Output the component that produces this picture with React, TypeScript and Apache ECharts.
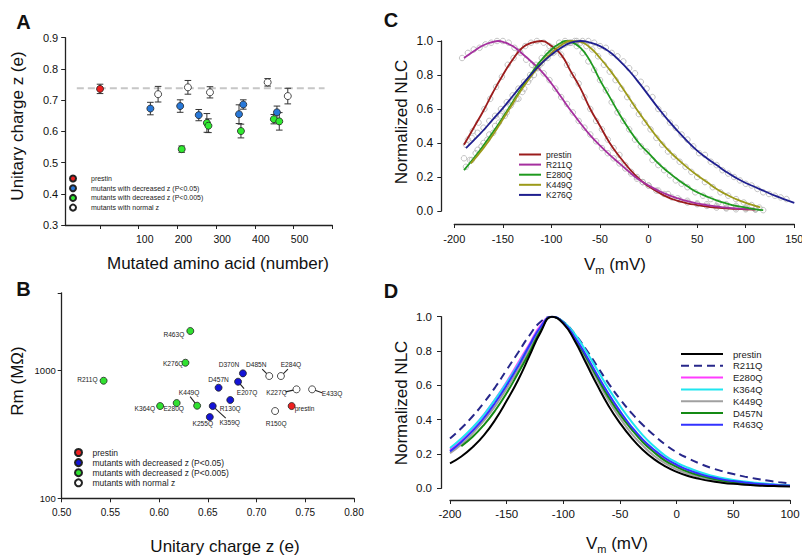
import React, { useEffect, useRef } from 'react';
import * as echarts from 'echarts';

const FONT = 'Arial, "Liberation Sans", Helvetica, sans-serif';

// ---------- Panels A & B: mutants ----------
const mutantNames = ['prestin', 'R130Q', 'R150Q', 'E207Q', 'R211Q', 'K227Q', 'K255Q', 'K276Q', 'E280Q', 'E284Q', 'K359Q', 'K364Q', 'D370N', 'E433Q', 'K449Q', 'D457N', 'R463Q', 'D485N'];
const residues = [0, 130, 150, 207, 211, 227, 255, 276, 280, 284, 359, 364, 370, 433, 449, 457, 463, 485];
const zValues = [0.736, 0.673, 0.719, 0.681, 0.543, 0.741, 0.652, 0.627, 0.618, 0.725, 0.655, 0.601, 0.686, 0.757, 0.639, 0.661, 0.632, 0.713];
const zErrors = [0.015, 0.02, 0.025, 0.02, 0.01, 0.022, 0.018, 0.03, 0.022, 0.018, 0.03, 0.022, 0.015, 0.012, 0.015, 0.02, 0.028, 0.025];
const rmValues = [524, 584, 479, 811, 825, 707, 430, 1140, 553, 898, 524, 524, 942, 707, 527, 728, 2015, 898];
const mutantGroups = ['prestin', 'p05', 'normal', 'p05', 'p005', 'normal', 'p05', 'p005', 'p005', 'normal', 'p05', 'p005', 'p05', 'normal', 'p005', 'p05', 'p005', 'normal'];
const groupKeys = ['prestin', 'p05', 'p005', 'normal'];
const groupLabels = ['prestin', 'mutants with decreased z (P<0.05)', 'mutants with decreased z (P<0.005)', 'mutants with normal z'];
const prestinZLine = 0.738;
const prestinLineRange = [-60, 580];

// ---------- Panel C: NLC fits and raw points ----------
const cNames = ['prestin', 'R211Q', 'E280Q', 'K449Q', 'K276Q'];
const cPrestin = [[-190, 0.39], [-180, 0.49], [-170, 0.59], [-160, 0.7], [-150, 0.8], [-140, 0.89], [-130, 0.96], [-120, 0.99], [-110, 1.0], [-100, 0.97], [-90, 0.92], [-80, 0.82], [-70, 0.72], [-60, 0.6], [-50, 0.5], [-40, 0.4], [-30, 0.32], [-20, 0.25], [-10, 0.19], [0, 0.145], [10, 0.11], [20, 0.08], [30, 0.06], [40, 0.045], [50, 0.035], [60, 0.026], [70, 0.02], [80, 0.015], [90, 0.012], [100, 0.01], [110, 0.008]];
const cR211Q = [[-190, 0.9], [-180, 0.94], [-170, 0.975], [-160, 0.995], [-155, 1.0], [-150, 0.995], [-140, 0.97], [-130, 0.925], [-120, 0.875], [-110, 0.82], [-100, 0.75], [-90, 0.67], [-80, 0.59], [-70, 0.515], [-60, 0.445], [-50, 0.385], [-40, 0.33], [-30, 0.28], [-20, 0.23], [-10, 0.185], [0, 0.15], [10, 0.12], [20, 0.095], [30, 0.075], [40, 0.058], [50, 0.045], [60, 0.035], [70, 0.027], [80, 0.02], [90, 0.016], [100, 0.012], [110, 0.01]];
const cE280Q = [[-190, 0.24], [-180, 0.31], [-170, 0.385], [-160, 0.465], [-150, 0.55], [-140, 0.64], [-130, 0.73], [-120, 0.815], [-110, 0.89], [-100, 0.95], [-90, 0.99], [-85, 1.0], [-80, 0.995], [-70, 0.96], [-60, 0.88], [-50, 0.77], [-40, 0.67], [-30, 0.57], [-20, 0.48], [-10, 0.4], [0, 0.34], [10, 0.28], [20, 0.23], [30, 0.185], [40, 0.145], [50, 0.11], [60, 0.085], [70, 0.063], [80, 0.045], [90, 0.03], [100, 0.02], [110, 0.01], [118, 0.005]];
const cK449Q = [[-183, 0.28], [-170, 0.37], [-160, 0.45], [-150, 0.54], [-140, 0.63], [-130, 0.72], [-120, 0.8], [-110, 0.87], [-100, 0.93], [-90, 0.975], [-80, 1.0], [-70, 0.995], [-60, 0.96], [-50, 0.9], [-40, 0.83], [-30, 0.75], [-20, 0.665], [-10, 0.58], [0, 0.5], [10, 0.425], [20, 0.36], [30, 0.305], [40, 0.255], [50, 0.21], [60, 0.17], [70, 0.13], [80, 0.097], [90, 0.07], [100, 0.048], [110, 0.03], [115, 0.022]];
const cK276Q = [[-188, 0.37], [-180, 0.415], [-170, 0.475], [-160, 0.54], [-150, 0.605], [-140, 0.675], [-130, 0.745], [-120, 0.81], [-110, 0.87], [-100, 0.92], [-90, 0.96], [-80, 0.99], [-70, 1.0], [-60, 0.99], [-50, 0.97], [-40, 0.935], [-30, 0.885], [-20, 0.825], [-10, 0.755], [0, 0.68], [10, 0.605], [20, 0.535], [30, 0.47], [40, 0.41], [50, 0.355], [60, 0.31], [70, 0.27], [80, 0.23], [90, 0.195], [100, 0.165], [110, 0.14], [120, 0.115], [130, 0.09], [140, 0.068], [150, 0.048]];

const cPtsPrestin = [[-190, 0.31], [-186, 0.42], [-181, 0.47], [-175, 0.52], [-169, 0.6], [-163, 0.66], [-157, 0.73], [-151, 0.79], [-145, 0.86], [-139, 0.9], [-133, 0.94], [-127, 0.97], [-121, 0.99], [-115, 1.0], [-108, 0.99], [-102, 0.97], [-96, 0.94], [-90, 0.92], [-84, 0.86], [-78, 0.8], [-72, 0.75], [-66, 0.67], [-60, 0.6], [-54, 0.53], [-48, 0.48], [-42, 0.42], [-36, 0.37], [-30, 0.33], [-24, 0.27], [-18, 0.23], [-12, 0.2], [-6, 0.17], [0, 0.15], [8, 0.12], [16, 0.1], [24, 0.08], [32, 0.065], [40, 0.05], [50, 0.04], [60, 0.03], [70, 0.02], [80, 0.015], [90, 0.01], [100, 0.01], [110, 0.01]];
const cPtsR211Q = [[-192, 0.9], [-186, 0.93], [-180, 0.95], [-174, 0.96], [-168, 0.98], [-162, 0.99], [-156, 1.0], [-150, 1.0], [-144, 0.99], [-138, 0.96], [-132, 0.93], [-126, 0.89], [-120, 0.86], [-114, 0.84], [-108, 0.81], [-102, 0.77], [-96, 0.72], [-90, 0.67], [-84, 0.63], [-78, 0.58], [-72, 0.53], [-66, 0.49], [-60, 0.45], [-54, 0.41], [-48, 0.37], [-42, 0.34], [-36, 0.31], [-30, 0.28], [-24, 0.25], [-18, 0.22], [-12, 0.19], [-6, 0.17], [0, 0.15], [10, 0.12], [20, 0.1], [30, 0.075], [40, 0.06], [50, 0.045], [60, 0.04], [70, 0.03], [80, 0.02], [90, 0.02], [100, 0.015], [110, 0.01]];
const cPtsE280Q = [[-188, 0.26], [-182, 0.3], [-176, 0.36], [-170, 0.4], [-164, 0.45], [-158, 0.5], [-152, 0.56], [-146, 0.58], [-140, 0.64], [-134, 0.66], [-128, 0.72], [-122, 0.78], [-116, 0.86], [-110, 0.9], [-104, 0.93], [-98, 0.96], [-92, 0.99], [-86, 1.0], [-80, 0.99], [-74, 0.97], [-68, 0.93], [-62, 0.88], [-56, 0.83], [-50, 0.77], [-44, 0.71], [-38, 0.64], [-32, 0.58], [-26, 0.53], [-20, 0.48], [-14, 0.42], [-8, 0.38], [-2, 0.35], [4, 0.3], [10, 0.27], [16, 0.24], [22, 0.21], [28, 0.18], [34, 0.16], [40, 0.14], [48, 0.11], [56, 0.09], [64, 0.07], [72, 0.05], [80, 0.04], [90, 0.03], [100, 0.02], [110, 0.01], [118, 0.005]];
const cPtsK449Q = [[-184, 0.3], [-178, 0.34], [-172, 0.38], [-166, 0.42], [-160, 0.46], [-154, 0.52], [-148, 0.56], [-142, 0.62], [-136, 0.66], [-130, 0.7], [-124, 0.76], [-118, 0.8], [-112, 0.86], [-106, 0.9], [-100, 0.93], [-94, 0.96], [-88, 0.98], [-82, 0.99], [-76, 1.0], [-70, 0.99], [-64, 0.97], [-58, 0.95], [-52, 0.91], [-46, 0.86], [-40, 0.82], [-34, 0.77], [-28, 0.72], [-22, 0.67], [-16, 0.62], [-10, 0.57], [-4, 0.52], [2, 0.48], [8, 0.43], [14, 0.39], [20, 0.35], [26, 0.32], [32, 0.29], [38, 0.26], [44, 0.23], [50, 0.2], [58, 0.17], [66, 0.14], [74, 0.11], [82, 0.09], [90, 0.07], [98, 0.05], [106, 0.035], [114, 0.02]];
const cPtsK276Q = [[-188, 0.39], [-182, 0.43], [-176, 0.46], [-170, 0.49], [-164, 0.53], [-158, 0.56], [-152, 0.6], [-146, 0.64], [-140, 0.68], [-134, 0.72], [-128, 0.76], [-122, 0.8], [-116, 0.84], [-110, 0.87], [-104, 0.9], [-98, 0.93], [-92, 0.96], [-86, 0.98], [-80, 0.99], [-74, 1.0], [-68, 1.0], [-62, 1.0], [-56, 0.99], [-50, 0.97], [-44, 0.96], [-38, 0.93], [-32, 0.91], [-26, 0.88], [-20, 0.84], [-14, 0.81], [-8, 0.76], [-2, 0.72], [4, 0.67], [10, 0.6], [16, 0.57], [22, 0.52], [28, 0.49], [34, 0.45], [40, 0.42], [46, 0.38], [52, 0.34], [58, 0.33], [64, 0.29], [70, 0.27], [76, 0.24], [82, 0.22], [88, 0.2], [94, 0.18], [100, 0.16], [106, 0.15], [112, 0.13], [118, 0.11], [124, 0.1], [130, 0.09], [136, 0.08], [142, 0.07]];

// ---------- Panel D: normalized NLC fits ----------
const dNames = ['prestin', 'R211Q', 'E280Q', 'K364Q', 'K449Q', 'D457N', 'R463Q'];
const dPrestin = [[-200, 0.145], [-190, 0.185], [-180, 0.24], [-170, 0.31], [-160, 0.4], [-150, 0.51], [-140, 0.63], [-130, 0.77], [-120, 0.91], [-110, 1.0], [-100, 0.96], [-90, 0.86], [-80, 0.73], [-70, 0.6], [-60, 0.48], [-50, 0.38], [-40, 0.295], [-30, 0.225], [-20, 0.17], [-10, 0.128], [0, 0.096], [10, 0.072], [20, 0.055], [30, 0.042], [40, 0.033], [50, 0.026], [60, 0.021], [70, 0.017], [80, 0.014], [90, 0.012], [100, 0.01]];
const dR211Q = [[-200, 0.29], [-190, 0.35], [-180, 0.42], [-170, 0.5], [-160, 0.59], [-150, 0.69], [-140, 0.79], [-130, 0.89], [-120, 0.97], [-110, 1.0], [-100, 0.97], [-90, 0.9], [-80, 0.81], [-70, 0.71], [-60, 0.61], [-50, 0.52], [-40, 0.44], [-30, 0.37], [-20, 0.31], [-10, 0.255], [0, 0.21], [10, 0.175], [20, 0.145], [30, 0.12], [40, 0.1], [50, 0.083], [60, 0.068], [70, 0.056], [80, 0.045], [90, 0.036], [100, 0.028]];
const dE280Q = [[-200, 0.225], [-190, 0.28], [-180, 0.35], [-170, 0.43], [-160, 0.52], [-150, 0.62], [-140, 0.73], [-130, 0.84], [-120, 0.95], [-110, 1.0], [-100, 0.965], [-90, 0.88], [-80, 0.77], [-70, 0.65], [-60, 0.54], [-50, 0.44], [-40, 0.355], [-30, 0.28], [-20, 0.22], [-10, 0.17], [0, 0.135], [10, 0.105], [20, 0.083], [30, 0.066], [40, 0.052], [50, 0.042], [60, 0.034], [70, 0.028], [80, 0.023], [90, 0.019], [100, 0.016]];
const dK364Q = [[-200, 0.235], [-190, 0.29], [-180, 0.355], [-170, 0.43], [-160, 0.52], [-150, 0.615], [-140, 0.72], [-130, 0.83], [-120, 0.94], [-110, 1.0], [-100, 0.97], [-90, 0.9], [-80, 0.8], [-70, 0.69], [-60, 0.58], [-50, 0.48], [-40, 0.39], [-30, 0.31], [-20, 0.245], [-10, 0.19], [0, 0.15], [10, 0.12], [20, 0.095], [30, 0.075], [40, 0.06], [50, 0.048], [60, 0.039], [70, 0.032], [80, 0.026], [90, 0.021], [100, 0.017]];
const dK449Q = [[-200, 0.205], [-190, 0.255], [-180, 0.32], [-170, 0.395], [-160, 0.48], [-150, 0.58], [-140, 0.69], [-130, 0.81], [-120, 0.93], [-110, 1.0], [-100, 0.96], [-90, 0.87], [-80, 0.75], [-70, 0.63], [-60, 0.51], [-50, 0.41], [-40, 0.32], [-30, 0.25], [-20, 0.19], [-10, 0.145], [0, 0.11], [10, 0.085], [20, 0.066], [30, 0.052], [40, 0.041], [50, 0.033], [60, 0.027], [70, 0.022], [80, 0.018], [90, 0.015], [100, 0.013]];
const dD457N = [[-190, 0.245], [-180, 0.3], [-170, 0.37], [-160, 0.455], [-150, 0.555], [-140, 0.67], [-130, 0.79], [-120, 0.92], [-110, 1.0], [-100, 0.965], [-90, 0.875], [-80, 0.765], [-70, 0.645], [-60, 0.53], [-50, 0.43], [-40, 0.345], [-30, 0.27], [-20, 0.21], [-10, 0.16], [0, 0.125], [10, 0.096], [20, 0.075], [30, 0.058], [40, 0.046], [50, 0.037], [60, 0.03], [70, 0.024], [80, 0.02], [90, 0.016], [100, 0.013]];
const dR463Q = [[-200, 0.215], [-190, 0.27], [-180, 0.335], [-170, 0.41], [-160, 0.5], [-150, 0.6], [-140, 0.71], [-130, 0.83], [-120, 0.94], [-110, 1.0], [-100, 0.965], [-90, 0.88], [-80, 0.775], [-70, 0.66], [-60, 0.55], [-50, 0.45], [-40, 0.36], [-30, 0.285], [-20, 0.225], [-10, 0.175], [0, 0.137], [10, 0.107], [20, 0.084], [30, 0.066], [40, 0.052], [50, 0.042], [60, 0.034], [70, 0.027], [80, 0.022], [90, 0.018], [100, 0.015]];

// ---------- styles ----------
const aColors: Record<string, string> = { prestin: '#ee2020', p05: '#2878d8', p005: '#30ea30', normal: '#ffffff' };
const bColors: Record<string, string> = { prestin: '#ee2020', p05: '#1414d6', p005: '#30e030', normal: '#ffffff' };
const cColors = ['#9b1c1c', '#a5309f', '#1f9a1f', '#9c9a1a', '#1f1f8f'];
const dColors = ['#000000', '#27278a', '#ff3cff', '#20e6f0', '#a0a0a0', '#148a14', '#3232ff'];

type Place = { dx: number; dy: number; align: 'left' | 'center' | 'right'; line?: [number, number] };
const bLabelPlacement: Record<string, Place> = {
  prestin: { dx: 3, dy: 2, align: 'left' },
  R130Q: { dx: 0, dy: 8.5, align: 'center' },
  R150Q: { dx: 1, dy: 12, align: 'center' },
  E207Q: { dx: 9, dy: 11, align: 'center', line: [6, 7] },
  R211Q: { dx: -6, dy: -1, align: 'right' },
  K227Q: { dx: -20, dy: 3, align: 'center', line: [-11, 2.5] },
  K255Q: { dx: -7, dy: 6, align: 'center' },
  K276Q: { dx: -2, dy: 1, align: 'right' },
  E280Q: { dx: -3, dy: 5, align: 'center' },
  E284Q: { dx: 10, dy: -12, align: 'center', line: [7, -7] },
  K359Q: { dx: 17, dy: 16, align: 'center', line: [13, 12] },
  K364Q: { dx: -5, dy: 2, align: 'right' },
  D370N: { dx: -14, dy: -9, align: 'center' },
  E433Q: { dx: 20, dy: 4, align: 'center', line: [10, 3.5] },
  K449Q: { dx: -8, dy: -13, align: 'center', line: [-7, -9] },
  D457N: { dx: 0, dy: -8.5, align: 'center' },
  R463Q: { dx: -6, dy: 4, align: 'right' },
  D485N: { dx: -13, dy: -12, align: 'center', line: [-7, -7] },
};

const axisLine = { show: true, onZero: false, lineStyle: { color: '#222', width: 1.3 } };
const tick = (extra: any = {}) => ({ show: true, inside: false, length: 4, lineStyle: { color: '#222', width: 1 }, ...extra });
const lbl = (fontSize: number, margin: number, extra: any = {}) => ({ show: true, color: '#111', fontFamily: FONT, fontSize, margin, showMinLabel: true, showMaxLabel: true, ...extra });
const noSplit = { show: false };
const stripPrefix = (n: string) => n.split(':').slice(1).join(':');

function txt(text: string, x: number, y: number, fontSize: number, opts: any = {}) {
  return {
    type: 'text', x, y, rotation: opts.rotation || 0, silent: true,
    style: {
      text, fontSize, fontFamily: FONT, fontWeight: opts.bold ? 'bold' : 'normal', fill: '#111',
      align: 'center', textAlign: 'center', verticalAlign: 'middle', textVerticalAlign: 'middle',
      rich: opts.rich,
    },
  };
}

function buildOption() {
  const idx = mutantNames.map((_, i) => i);
  const series: any[] = [];

  // Panel A: dashed prestin reference
  series.push({
    type: 'line', xAxisIndex: 0, yAxisIndex: 0, symbol: 'none', silent: true, z: 1,
    data: [[prestinLineRange[0], prestinZLine], [prestinLineRange[1], prestinZLine]],
    lineStyle: { color: '#c6c6c6', width: 2, type: [7, 4] },
  });
  // Panel A: error bars
  series.push({
    type: 'custom', xAxisIndex: 0, yAxisIndex: 0, silent: true, z: 2,
    data: idx.map((i) => [residues[i], zValues[i], zErrors[i]]),
    renderItem: (_p: any, api: any) => {
      const x = api.value(0), y = api.value(1), e = api.value(2);
      const t = api.coord([x, y + e]);
      const b = api.coord([x, y - e]);
      const hw = 3.3;
      const st = { stroke: '#333', lineWidth: 1 };
      return {
        type: 'group', children: [
          { type: 'line', shape: { x1: t[0], y1: t[1], x2: b[0], y2: b[1] }, style: st },
          { type: 'line', shape: { x1: t[0] - hw, y1: t[1], x2: t[0] + hw, y2: t[1] }, style: st },
          { type: 'line', shape: { x1: b[0] - hw, y1: b[1], x2: b[0] + hw, y2: b[1] }, style: st },
        ],
      };
    },
  });
  // Panel A & B scatter by group
  groupKeys.forEach((g, gi) => {
    const members = idx.filter((i) => mutantGroups[i] === g);
    series.push({
      type: 'scatter', name: 'A:' + groupLabels[gi], xAxisIndex: 0, yAxisIndex: 0, z: 3,
      symbol: 'circle', symbolSize: 7,
      itemStyle: { color: aColors[g], borderColor: '#222', borderWidth: 0.8, opacity: 1 },
      data: members.map((i) => [residues[i], zValues[i]]),
    });
    series.push({
      type: 'scatter', name: 'B:' + groupLabels[gi], xAxisIndex: 1, yAxisIndex: 1, z: 3,
      symbol: 'circle', symbolSize: 7,
      itemStyle: { color: bColors[g], borderColor: '#222', borderWidth: 0.8, opacity: 1 },
      data: members.map((i) => [zValues[i], rmValues[i]]),
    });
  });
  // Panel B labels with leader lines
  series.push({
    type: 'custom', xAxisIndex: 1, yAxisIndex: 1, silent: true, z: 2,
    data: idx.map((i) => [zValues[i], rmValues[i], i]),
    renderItem: (_p: any, api: any) => {
      const p = api.coord([api.value(0), api.value(1)]);
      const name = mutantNames[api.value(2)];
      const pl = bLabelPlacement[name];
      const children: any[] = [
        {
          type: 'text', x: p[0] + pl.dx, y: p[1] + pl.dy,
          style: {
            text: name, fontSize: 6.6, fontFamily: FONT, fill: '#222',
            align: pl.align, textAlign: pl.align, verticalAlign: 'middle', textVerticalAlign: 'middle',
          },
        },
      ];
      if (pl.line) {
        children.push({
          type: 'line', shape: { x1: p[0], y1: p[1], x2: p[0] + pl.line[0], y2: p[1] + pl.line[1] },
          style: { stroke: '#222', lineWidth: 1.1 },
        });
      }
      return { type: 'group', children };
    },
  });

  // Panel C raw points
  series.push({
    type: 'scatter', xAxisIndex: 2, yAxisIndex: 2, silent: true, z: 1,
    symbol: 'circle', symbolSize: 5.5,
    itemStyle: { color: 'rgba(255,255,255,0)', borderColor: '#b4b4b4', borderWidth: 1 },
    data: [...cPtsPrestin, ...cPtsR211Q, ...cPtsE280Q, ...cPtsK449Q, ...cPtsK276Q],
  });
  // Panel C fits
  [cPrestin, cR211Q, cE280Q, cK449Q, cK276Q].forEach((d, i) => {
    series.push({
      type: 'line', name: 'C:' + cNames[i], xAxisIndex: 2, yAxisIndex: 2, z: 3,
      symbol: 'none', smooth: true, data: d, color: cColors[i],
      lineStyle: { color: cColors[i], width: 1.8 },
    });
  });
  // Panel D fits
  [dPrestin, dR211Q, dE280Q, dK364Q, dK449Q, dD457N, dR463Q].forEach((d, i) => {
    series.push({
      type: 'line', name: 'D:' + dNames[i], xAxisIndex: 3, yAxisIndex: 3, z: i === 0 ? 4 : 3,
      symbol: 'none', smooth: true, data: d, color: dColors[i],
      lineStyle: { color: dColors[i], width: 2, type: i === 1 ? [8, 5] : 'solid' },
    });
  });

  const legendBase = {
    orient: 'vertical', padding: 0, selectedMode: false, formatter: stripPrefix,
  };
  const lineLegendItemStyle = { opacity: 0, color: 'rgba(0,0,0,0)', borderWidth: 0 };

  return {
    animation: false,
    backgroundColor: '#ffffff',
    textStyle: { fontFamily: FONT },
    grid: [
      { left: 65.2, top: 37.7, width: 267.1, height: 187.3, outerBoundsMode: 'none', containLabel: false },
      { left: 61.7, top: 292.8, width: 292.3, height: 205.5, outerBoundsMode: 'none', containLabel: false },
      { left: 454.3, top: 41, width: 340, height: 170, outerBoundsMode: 'none', containLabel: false },
      { left: 450, top: 316.7, width: 340, height: 171.6, outerBoundsMode: 'none', containLabel: false },
    ],
    xAxis: [
      {
        gridIndex: 0, type: 'value', min: -90, max: 600, axisLine,
        axisTick: tick({ customValues: [0, 100, 200, 300, 400, 500, 600] }),
        axisLabel: lbl(10.5, 8, { customValues: [100, 200, 300, 400, 500], padding: [0, 0, 0, 12] }),
        splitLine: noSplit,
      },
      {
        gridIndex: 1, type: 'value', min: 0.5, max: 0.8, interval: 0.05, axisLine, axisTick: tick(),
        axisLabel: lbl(10, 9, { formatter: (v: number) => v.toFixed(2) }), splitLine: noSplit,
      },
      {
        gridIndex: 2, type: 'value', min: -200, max: 150, interval: 50, offset: 13, axisLine, axisTick: tick(),
        axisLabel: lbl(11, 9), splitLine: noSplit,
      },
      {
        gridIndex: 3, type: 'value', min: -200, max: 100, interval: 50, offset: 11.7, axisLine, axisTick: tick(),
        axisLabel: lbl(11.5, 8), splitLine: noSplit,
      },
    ],
    yAxis: [
      {
        gridIndex: 0, type: 'value', min: 0.3, max: 0.9, interval: 0.1, axisLine, axisTick: tick(),
        axisLabel: lbl(11, 7, { formatter: (v: number) => v.toFixed(1) }), splitLine: noSplit,
      },
      {
        gridIndex: 1, type: 'log', logBase: 10, min: 100, max: 4000, axisLine, axisTick: tick(),
        axisLabel: lbl(9.5, 6, { formatter: (v: number) => { const r = Math.round(v); return r === 100 || r === 1000 ? String(r) : ''; } }),
        splitLine: noSplit, minorTick: { show: false },
      },
      {
        gridIndex: 2, type: 'value', min: 0, max: 1, interval: 0.2, offset: 13, axisLine, axisTick: tick(),
        axisLabel: lbl(12, 8, { formatter: (v: number) => v.toFixed(1) }), splitLine: noSplit,
      },
      {
        gridIndex: 3, type: 'value', min: 0, max: 1, interval: 0.2, offset: 9, axisLine, axisTick: tick(),
        axisLabel: lbl(11.5, 9, { formatter: (v: number) => v.toFixed(1) }), splitLine: noSplit,
      },
    ],
    legend: [
      {
        ...legendBase, data: groupLabels.map((l) => 'A:' + l), left: 69, top: 174.5,
        itemWidth: 26, itemHeight: 6, itemGap: 1.7,
        textStyle: { fontSize: 7, lineHeight: 7.5, fontFamily: FONT, color: '#222' },
      },
      {
        ...legendBase, data: groupLabels.map((l) => 'B:' + l), left: 74, top: 448,
        itemWidth: 18, itemHeight: 7, itemGap: 1.1,
        textStyle: { fontSize: 8.5, lineHeight: 8.5, fontFamily: FONT, color: '#222' },
      },
      {
        ...legendBase, data: cNames.map((l) => 'C:' + l), left: 518, top: 150,
        itemWidth: 22, itemHeight: 8, itemGap: 1.1, itemStyle: lineLegendItemStyle,
        textStyle: { fontSize: 8.5, lineHeight: 8, fontFamily: FONT, color: '#222' },
      },
      {
        ...legendBase, data: dNames.map((l) => 'D:' + l), left: 680, top: 349,
        itemWidth: 42, itemHeight: 10, itemGap: 1.8, itemStyle: lineLegendItemStyle,
        textStyle: { fontSize: 9.5, lineHeight: 10, fontFamily: FONT, color: '#222', padding: [0, 0, 0, 5] },
      },
    ],
    graphic: [
      txt('A', 23.5, 21.5, 20, { bold: true }),
      txt('B', 23.5, 288.5, 20, { bold: true }),
      txt('C', 391, 20, 20, { bold: true }),
      txt('D', 391, 290.5, 20, { bold: true }),
      txt('Unitary charge z (e)', 17.5, 126, 17, { rotation: Math.PI / 2 }),
      txt('Mutated amino acid (number)', 218, 263, 17),
      txt('Rm (MΩ)', 17, 381, 17, { rotation: Math.PI / 2 }),
      txt('Unitary charge z (e)', 225, 546.5, 17),
      txt('Normalized NLC', 401, 122, 17, { rotation: Math.PI / 2 }),
      txt('Normalized NLC', 401, 403, 17, { rotation: Math.PI / 2 }),
      txt('{a|V}{b|m}{a| (mV)}', 615, 264, 17, { rich: { a: { fontSize: 17, lineHeight: 22, fontFamily: FONT, fill: '#111' }, b: { fontSize: 11, lineHeight: 11, verticalAlign: 'bottom', fontFamily: FONT, fill: '#111' } } }),
      txt('{a|V}{b|m}{a| (mV)}', 617, 543, 17, { rich: { a: { fontSize: 17, lineHeight: 22, fontFamily: FONT, fill: '#111' }, b: { fontSize: 11, lineHeight: 11, verticalAlign: 'bottom', fontFamily: FONT, fill: '#111' } } }),
    ],
    series,
  };
}

export default function App() {
  const ref = useRef<HTMLDivElement>(null);
  useEffect(() => {
    if (!ref.current) return;
    const chart = echarts.init(ref.current, null, { renderer: 'svg' });
    chart.setOption(buildOption() as any);
    return () => chart.dispose();
  }, []);
  return <div ref={ref} style={{ position: 'fixed', left: 0, top: 0, width: 802, height: 557, background: '#fff' }} />;
}
